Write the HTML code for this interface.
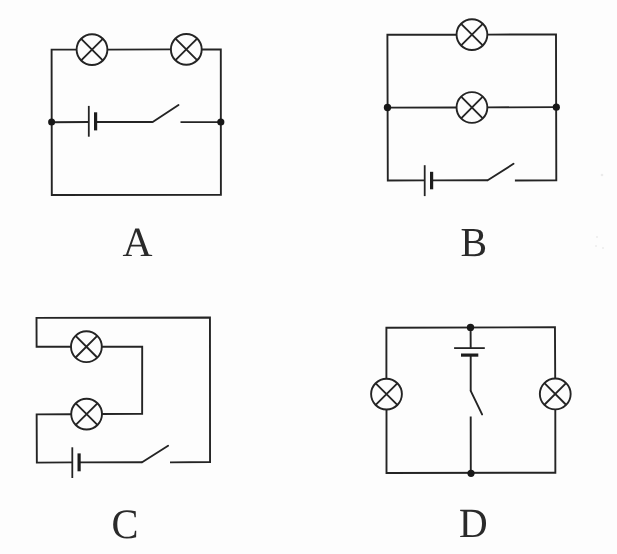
<!DOCTYPE html>
<html lang="en">
<head>
<meta charset="utf-8">
<title>Circuit diagrams A B C D</title>
<style>
html,body{margin:0;padding:0;background:#fdfdfd;}
body{width:617px;height:554px;overflow:hidden;position:relative;}
svg{position:absolute;left:0;top:0;display:block;filter:blur(0.35px);}
.w{fill:none;stroke:#242424;stroke-width:1.9;stroke-linecap:butt;stroke-linejoin:miter;}
.lamp{fill:#fdfdfd;stroke:#242424;stroke-width:1.9;}
.x{fill:none;stroke:#242424;stroke-width:1.9;}
.thin{fill:none;stroke:#242424;stroke-width:1.8;}
.thick{fill:none;stroke:#1c1c1c;stroke-width:3.2;}
.sw{fill:none;stroke:#242424;stroke-width:1.9;stroke-linecap:round;}
.dot{fill:#181818;stroke:none;}
text{text-rendering:geometricPrecision;font-family:"Liberation Serif",serif;font-size:41.5px;fill:#2a2a2a;text-anchor:middle;}
</style>
</head>
<body>
<svg width="617" height="554" viewBox="0 0 617 554">
<defs>
<g id="lamp">
<circle class="lamp" cx="0" cy="0" r="15.4"/>
<path class="x" d="M-10.8 -10.8L10.8 10.8M-10.8 10.8L10.8 -10.8"/>
</g>
</defs>

<!-- Circuit A -->
<g id="cA">
<path class="w" d="M77 49.6H51.6L51.8 195L220.9 194.9L220.8 49.5H201"/>
<path class="w" d="M107 49.6L171 49.4"/>
<path class="w" d="M51.6 122.2L88.8 122M95.5 122H152.7M180.5 122.1H220.8"/>
<path class="sw" d="M152.7 122L178.5 105"/>
<path class="thin" d="M88.8 105.9V136.7"/>
<path class="thick" d="M95.6 112.3V130.4"/>
<use href="#lamp" x="92" y="49.6"/>
<use href="#lamp" x="186.3" y="49.4"/>
<circle class="dot" cx="51.6" cy="122.1" r="3.5"/>
<circle class="dot" cx="220.8" cy="122" r="3.6"/>
<text transform="translate(137.6 255.6)">A</text>
</g>

<!-- Circuit B -->
<g id="cB">
<path class="w" d="M457 34.7L387.4 34.8L387.8 180.5L424.7 180.4M431.5 180.4L487.7 180.3M514.9 180.5L556.3 180.2L556 34.5L487 34.6"/>
<path class="w" d="M387.5 107.6L457 107.5M487 107.4L556.3 107.15"/>
<path class="sw" d="M487.7 180.3L513.5 163.8"/>
<path class="thin" d="M424.7 165.2V196.1"/>
<path class="thick" d="M431.6 171.8V189.3"/>
<use href="#lamp" x="471.95" y="34.6"/>
<use href="#lamp" x="471.95" y="107.5"/>
<circle class="dot" cx="387.5" cy="107.5" r="3.7"/>
<circle class="dot" cx="556.3" cy="107.2" r="3.6"/>
<text transform="translate(473.8 255.7) scale(0.96 0.99)">B</text>
</g>

<!-- Circuit C -->
<g id="cC">
<path class="w" d="M71.5 346.8H36.6L36.5 317.9L209.95 317.5L210.05 462L170 462.4"/>
<path class="w" d="M101.5 346.8H142.2L142.15 413.7L101.5 414M71.5 414.2L36.65 414.4L36.85 462.6L72.3 462.4M79 462.4L142.1 462.3"/>
<path class="sw" d="M142.1 462.3L168.1 445.7"/>
<path class="thin" d="M72.3 447.3V478"/>
<path class="thick" d="M79.1 453.4V471.3"/>
<use href="#lamp" x="86.4" y="346.7"/>
<use href="#lamp" x="86.6" y="414.1"/>
<text transform="translate(125.1 538) scale(0.975 1.01)">C</text>
</g>

<!-- Circuit D -->
<g id="cD">
<path class="w" d="M386.4 379V327.8L554.95 327.25L555.2 379M555.3 409L555.35 472.7L386.5 473L386.5 409"/>
<path class="w" d="M470.6 327.3L470.7 348M470.7 355V390.8M470.7 416.6L470.8 473"/>
<path class="sw" d="M470.7 390.8L482.1 414.4"/>
<path class="thin" d="M454.1 348.1H484.8"/>
<path class="thick" d="M461 355.1H478.3"/>
<use href="#lamp" x="386.5" y="394.1"/>
<use href="#lamp" x="555.25" y="393.95"/>
<circle class="dot" cx="470.5" cy="327.4" r="3.7"/>
<circle class="dot" cx="471" cy="473.3" r="3.6"/>
<text transform="translate(473.3 537.1) scale(0.955 1)">D</text>
</g>
<g fill="#ebebeb"><circle cx="602" cy="175" r="1.3"/><circle cx="597" cy="237" r="1"/><circle cx="603" cy="248" r="1"/><circle cx="596" cy="246" r="0.9"/></g>
</svg>
</body>
</html>
